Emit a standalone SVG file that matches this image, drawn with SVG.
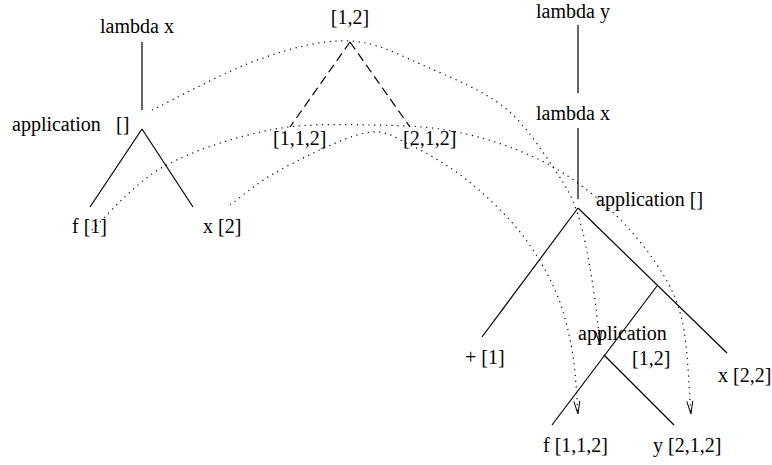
<svg xmlns="http://www.w3.org/2000/svg" width="772" height="465" viewBox="0 0 772 465">
<style>
  text { font-family: "Liberation Serif", "Times New Roman", serif; font-size: 20px; fill: #000; }
  .edge { stroke: #000; stroke-width: 1.2; fill: none; }
  .dash { stroke: #000; stroke-width: 1.2; fill: none; stroke-dasharray: 9 5; }
  .dot { stroke: #000; stroke-width: 1.2; fill: none; stroke-dasharray: 1.2 4.6; marker-end: url(#arr); }
</style>
<defs>
  <marker id="arr" viewBox="0 0 13 6" refX="13" refY="3" markerWidth="13" markerHeight="6" markerUnits="userSpaceOnUse" orient="auto" overflow="visible">
    <path d="M0,0 L13,3 L0,6" fill="none" stroke="#000" stroke-width="1"/>
  </marker>
</defs>
<rect width="772" height="465" fill="#fff"/>

<g id="connectors">
  <line class="edge" x1="142" y1="42" x2="142" y2="110"/>
  <line class="edge" x1="142" y1="129" x2="90" y2="207"/>
  <line class="edge" x1="142" y1="129" x2="193" y2="207"/>
  <line class="dash" x1="350" y1="42" x2="290" y2="127"/>
  <line class="dash" x1="350" y1="42" x2="410" y2="127"/>
  <line class="edge" x1="578" y1="25" x2="578" y2="93"/>
  <line class="edge" x1="578" y1="128" x2="578" y2="199"/>
  <line class="edge" x1="578" y1="208" x2="482" y2="337"/>
  <line class="edge" x1="578" y1="208" x2="727" y2="353"/>
  <line class="edge" x1="657" y1="286" x2="552" y2="425"/>
  <line class="edge" x1="604" y1="355" x2="674" y2="425"/>
  <path class="dot" d="M152,110 C170,101.5 227,70.5 260,59 C293,47.5 322,39.7 350,41 C378,42.3 401,55.8 427,67 C452.8,78.2 483.7,90.8 505,108 C526.3,125.2 542.8,152.2 555,170 C567.2,187.8 571.8,196.7 578,215 C584.2,233.3 588.3,258.5 592,280 C595.7,301.5 598.7,333.3 600,344"/>
  <path class="dot" d="M92,230 C103.8,219.5 133.3,183.7 163,167 C192.7,150.3 235.5,137 270,130 C304.5,123 338.8,124.7 370,125 C401.2,125.3 428.7,126.2 457,132 C485.3,137.8 515.3,147.8 540,160 C564.7,172.2 585.8,188 605,205 C624.2,222 642.2,242.8 655,262 C667.8,281.2 676,294.7 682,320 C688,345.3 689.5,398.3 691,414"/>
  <path class="dot" d="M230,205 C238.3,199.2 257.5,182 280,170 C302.5,158 343.3,137.2 365,133 C386.7,128.8 393,137.2 410,145 C427,152.8 448.7,165.5 467,180 C485.3,194.5 505.3,213.7 520,232 C534.7,250.3 546.3,270.3 555,290 C563.7,309.7 568.2,329.3 572,350 C575.8,370.7 577,402.7 578,414"/>
</g>

<g id="n-lambda-x-left"><text x="137" y="33" text-anchor="middle">lambda x</text></g>
<g id="n-application-left"><text x="12" y="131">application<tspan x="116">[]</tspan></text></g>
<g id="n-f-1"><text x="72" y="233">f [1]</text></g>
<g id="n-x-2"><text x="203" y="233">x [2]</text></g>
<g id="n-path-1-2"><text x="350" y="24" text-anchor="middle">[1,2]</text></g>
<g id="n-path-1-1-2"><text x="273" y="145">[1,1,2]</text></g>
<g id="n-path-2-1-2"><text x="403" y="145">[2,1,2]</text></g>
<g id="n-lambda-y"><text x="573" y="18" text-anchor="middle">lambda y</text></g>
<g id="n-lambda-x-right"><text x="573" y="120" text-anchor="middle">lambda x</text></g>
<g id="n-application-right"><text x="596" y="206">application []</text></g>
<g id="n-plus-1"><text x="465" y="364">+ [1]</text></g>
<g id="n-application-sub"><text x="578" y="340">application</text><text x="632" y="365">[1,2]</text></g>
<g id="n-x-2-2"><text x="718" y="382">x [2,2]</text></g>
<g id="n-f-1-1-2"><text x="543" y="452">f [1,1,2]</text></g>
<g id="n-y-2-1-2"><text x="653" y="452">y [2,1,2]</text></g>
</svg>
